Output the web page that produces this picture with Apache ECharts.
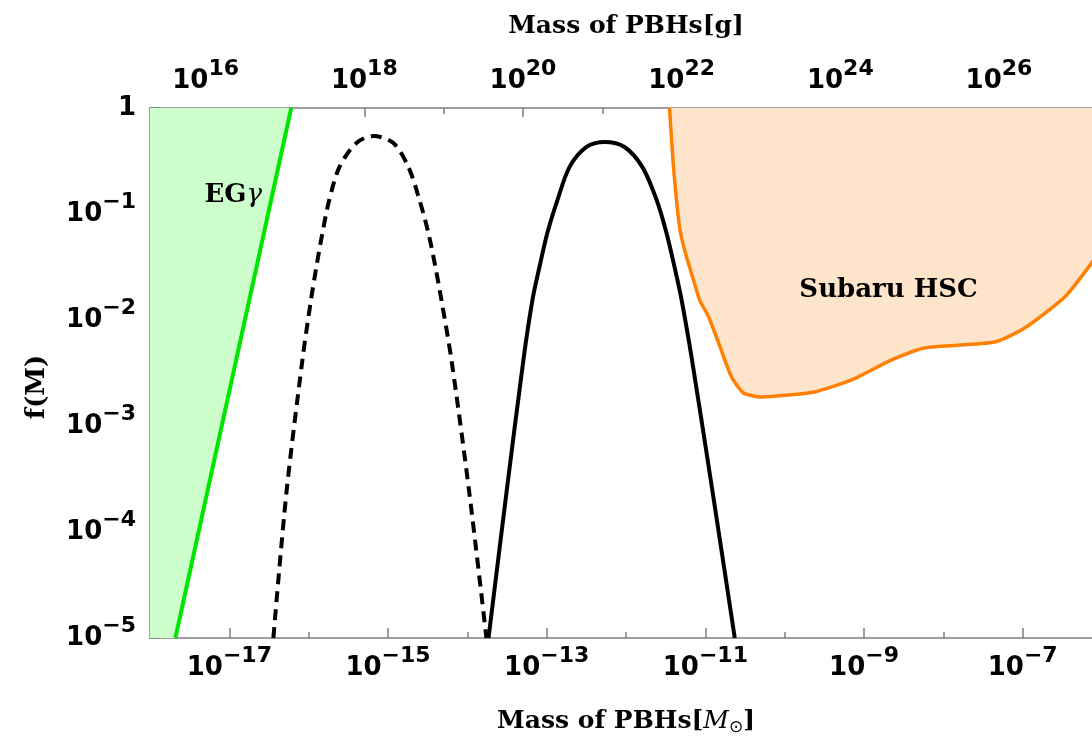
<!DOCTYPE html>
<html>
<head>
<meta charset="utf-8">
<title>PBH mass function</title>
<script src="https://cdn.jsdelivr.net/npm/echarts@6/dist/echarts.min.js"></script>
<style>
  html, body { margin: 0; padding: 0; background: #fff; }
  #main { width: 1092px; height: 740px; }
</style>
</head>
<body>
<div id="main"></div>
<script>
// axis ranges (solar masses / fraction)
const xMinM = 1e-18, xMaxM = 1e-6;
const yMinF = 1e-5, yMaxF = 1;
const gramsPerMsun = 1.989e33;

// tick values
const bottomLabelTicks = [1e-17, 1e-15, 1e-13, 1e-11, 1e-9, 1e-7];
const bottomTicks = [1e-17, 1e-16, 1e-15, 1e-14, 1e-13, 1e-12, 1e-11, 1e-10, 1e-9, 1e-8, 1e-7];
const topLabelTicks = [1e16, 1e18, 1e20, 1e22, 1e24, 1e26];
const topTicks = [1e16, 1e17, 1e18, 1e19, 1e20, 1e21, 1e22, 1e23, 1e24, 1e25, 1e26, 1e27];
const yLabelTicks = [1e-5, 1e-4, 1e-3, 1e-2, 1e-1, 1];
const yDecades = [1e-5, 1e-4, 1e-3, 1e-2, 1e-1];
const yMinorMult = [2, 3, 4, 5, 6, 7, 8, 9];

// EG gamma bound (straight line in log-log)
const egM = [2.09e-18, 6.03e-17];
const egF = [1e-5, 1];

// dashed mass function
const dashedM = [3.59e-17, 5.24e-17, 8.34e-17, 1.07e-16, 1.25e-16, 1.49e-16, 1.82e-16, 2.44e-16, 4.00e-16, 6.55e-16,
                 1.17e-15, 1.81e-15, 2.49e-15, 3.23e-15, 3.96e-15, 4.71e-15, 6.31e-15, 1.06e-14, 1.74e-14];
const dashedF = [1e-5, 2.33e-4, 4.20e-3, 1.55e-2, 3.16e-2, 6.62e-2, 0.136, 0.277, 0.468, 0.545,
                 0.468, 0.277, 0.136, 6.62e-2, 3.16e-2, 1.55e-2, 4.20e-3, 2.33e-4, 1e-5];

// solid mass function
const solidM = [1.85e-14, 3.11e-14, 5.09e-14, 6.62e-14, 8.11e-14, 1.02e-13, 1.37e-13, 1.94e-13, 3.18e-13, 5.36e-13,
                9.57e-13, 1.61e-12, 2.43e-12, 3.24e-12, 4.09e-12, 5.02e-12, 6.79e-12, 1.24e-11, 2.35e-11];
const solidF = [1e-5, 2.33e-4, 4.20e-3, 1.55e-2, 3.16e-2, 6.62e-2, 0.136, 0.277, 0.429, 0.478,
                0.429, 0.277, 0.136, 6.62e-2, 3.16e-2, 1.55e-2, 4.20e-3, 2.33e-4, 1e-5];

// Subaru HSC bound
const hscM = [3.54e-12, 3.97e-12, 4.73e-12, 5.47e-12, 7.10e-12, 8.45e-12, 1.10e-11, 1.47e-11,
              2.14e-11, 3.03e-11, 5.12e-11, 1.12e-10, 2.38e-10, 6.98e-10, 2.23e-9, 5.81e-9,
              4.44e-8, 1.06e-7, 3.39e-7, 6.79e-7, 1e-6];
const hscF = [1, 0.277, 7.53e-2, 4.57e-2, 2.38e-2, 1.55e-2, 1.07e-2, 6.07e-3,
              2.90e-3, 2.05e-3, 1.88e-3, 1.96e-3, 2.09e-3, 2.72e-3, 4.20e-3, 5.45e-3,
              6.19e-3, 8.41e-3, 1.65e-2, 3.16e-2, 4.79e-2];

// region labels
const regionNames = ['EG', 'Subaru HSC'];
const regionAt = [[1.12e-17, 0.151], [2.04e-9, 0.0192]];

const zip = (xs, ys) => xs.map((x, i) => [x, ys[i]]);

const yMinorTicks = [];
yDecades.forEach(d => yMinorMult.forEach(m => yMinorTicks.push(d * m)));

const axisGray = '#7f7f7f';
const powRich = {
  b: { fontFamily: 'DejaVu Sans', fontWeight: 'bold', fontSize: 26, lineHeight: 46, color: '#000' },
  s: { fontFamily: 'DejaVu Sans', fontWeight: 'bold', fontSize: 22, lineHeight: 22, verticalAlign: 'top', color: '#000' }
};
function powLabel(v) {
  const e = Math.round(Math.log10(v));
  if (e === 0) return '{b|1}';
  return '{b|10}{s|' + String(e).replace('-', '\u2212') + '}';
}
const serifBold = { fontFamily: 'DejaVu Serif', fontWeight: 'bold', color: '#000' };

function logAxis(extra) {
  return Object.assign({
    type: 'log',
    logBase: 10,
    splitLine: { show: false },
    minorTick: { show: false },
    axisLine: { show: true, lineStyle: { color: axisGray, width: 1.5 } }
  }, extra);
}

var myChart = echarts.init(document.getElementById('main'));
myChart.setOption({
  animation: false,
  backgroundColor: '#fff',
  grid: { left: 150, right: -10, top: 108, bottom: 102, containLabel: false, outerBoundsMode: 'none' },
  xAxis: [
    logAxis({
      position: 'bottom', min: xMinM, max: xMaxM,
      name: '{t|Mass of PBHs[}{i|M}{sub|\u2299}{t|]}',
      nameLocation: 'middle', nameGap: 68,
      nameTextStyle: {
        rich: {
          t: Object.assign({ fontSize: 25, lineHeight: 30 }, serifBold),
          i: { fontFamily: 'DejaVu Serif', fontStyle: 'italic', fontSize: 25, lineHeight: 30, color: '#000' },
          sub: { fontFamily: 'DejaVu Sans', fontSize: 17, lineHeight: 17, verticalAlign: 'bottom', color: '#000' }
        }
      },
      axisTick: { show: true, inside: true, length: 10, customValues: bottomLabelTicks, lineStyle: { color: axisGray, width: 1.5 } },
      axisLabel: { customValues: bottomLabelTicks, margin: 7, formatter: powLabel, rich: powRich }
    }),
    logAxis({
      position: 'bottom', min: xMinM, max: xMaxM,
      axisLine: { show: false },
      axisTick: { show: true, inside: true, length: 6, customValues: bottomTicks, lineStyle: { color: axisGray, width: 1.5 } },
      axisLabel: { show: false }
    }),
    logAxis({
      position: 'top', min: xMinM * gramsPerMsun, max: xMaxM * gramsPerMsun,
      name: 'Mass of PBHs[g]',
      nameLocation: 'middle', nameGap: 67,
      nameTextStyle: Object.assign({ fontSize: 25, lineHeight: 30 }, serifBold),
      axisTick: { show: true, inside: true, length: 9, customValues: topLabelTicks, lineStyle: { color: axisGray, width: 1.5 } },
      axisLabel: { customValues: topLabelTicks, margin: 4, formatter: powLabel, rich: powRich }
    }),
    logAxis({
      position: 'top', min: xMinM * gramsPerMsun, max: xMaxM * gramsPerMsun,
      axisLine: { show: false },
      axisTick: { show: true, inside: true, length: 6, customValues: topTicks, lineStyle: { color: axisGray, width: 1.5 } },
      axisLabel: { show: false }
    })
  ],
  yAxis: [
    logAxis({
      position: 'left', min: yMinF, max: yMaxF,
      name: 'f(M)', nameLocation: 'middle', nameGap: 100, nameRotate: 90,
      nameTextStyle: Object.assign({ fontSize: 26, padding: [0, 28, 0, 0] }, serifBold),
      axisTick: { show: true, inside: true, length: 10, customValues: yLabelTicks, lineStyle: { color: axisGray, width: 1.5 } },
      axisLabel: { customValues: yLabelTicks, margin: 14, formatter: powLabel, rich: powRich }
    }),
    logAxis({
      position: 'left', min: yMinF, max: yMaxF,
      axisLine: { show: false },
      axisTick: { show: true, inside: true, length: 6, customValues: yMinorTicks, lineStyle: { color: axisGray, width: 1.5 } },
      axisLabel: { show: false }
    })
  ],
  series: [
    {
      // green excluded region (filled up to the top of the axis)
      type: 'line', symbol: 'none', silent: true,
      data: [[xMinM, yMinF]].concat(zip(egM, egF)),
      lineStyle: { width: 0, opacity: 0 },
      areaStyle: { origin: 'end', color: '#ccffcc', opacity: 1 },
      z: 1
    },
    {
      type: 'line', symbol: 'none', silent: true,
      data: zip(egM, egF),
      lineStyle: { color: '#00e600', width: 4 },
      z: 3
    },
    {
      // Subaru HSC region
      type: 'line', symbol: 'none', silent: true, smooth: 0.2,
      data: zip(hscM, hscF),
      lineStyle: { color: '#ff8000', width: 3.5 },
      areaStyle: { origin: 'end', color: '#ffe4cc', opacity: 1 },
      z: 2
    },
    {
      type: 'line', symbol: 'none', silent: true, smooth: 0.3,
      data: zip(dashedM, dashedF),
      lineStyle: { color: '#000', width: 4, type: [11, 7] },
      z: 4
    },
    {
      type: 'line', symbol: 'none', silent: true, smooth: 0.3,
      data: zip(solidM, solidF),
      lineStyle: { color: '#000', width: 4 },
      z: 4
    },
    {
      type: 'scatter', symbolSize: 0, silent: true,
      itemStyle: { opacity: 1 },
      data: regionAt.map((p, i) => ({ value: p, name: regionNames[i] })),
      label: {
        show: true, position: 'inside', color: '#000', opacity: 1,
        formatter: p => p.dataIndex === 0 ? '{b|EG}{g|\u03b3}' : '{b|Subaru HSC}',
        rich: {
          b: Object.assign({ fontSize: 26 }, serifBold),
          g: { fontFamily: 'DejaVu Serif', fontStyle: 'italic', fontSize: 26, color: '#000' }
        }
      },
      z: 5
    }
  ]
});
</script>
</body>
</html>
